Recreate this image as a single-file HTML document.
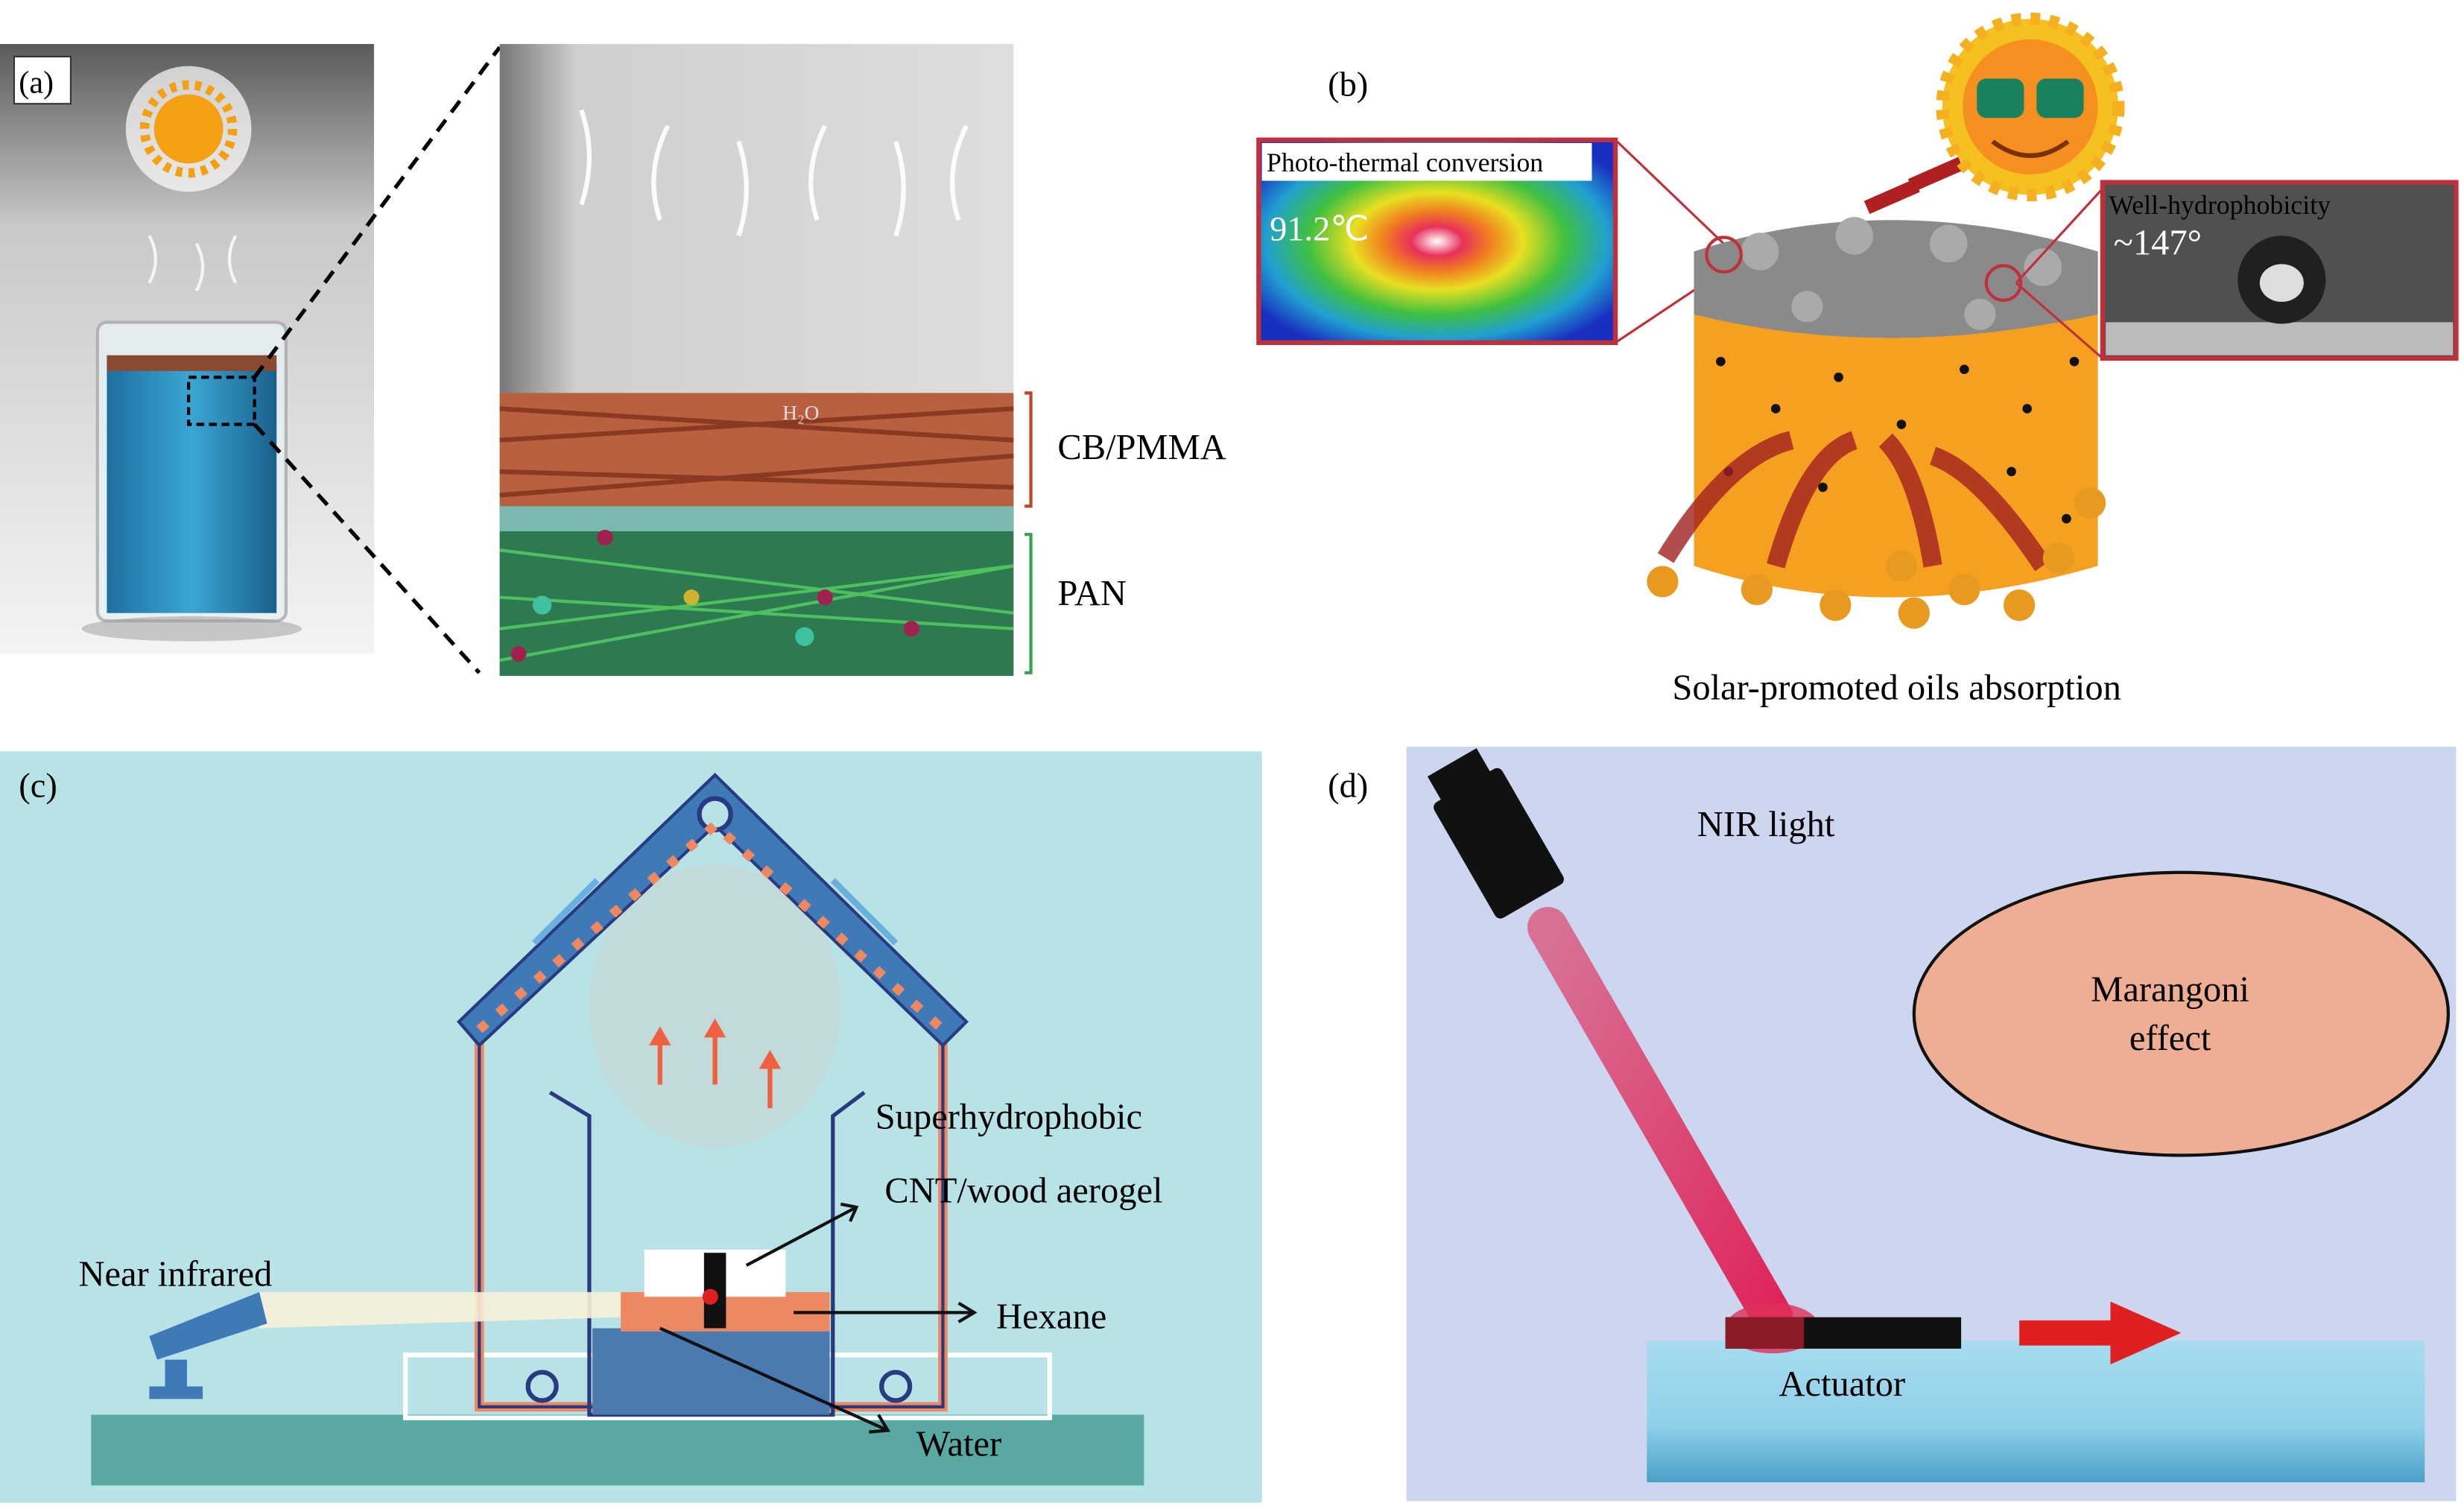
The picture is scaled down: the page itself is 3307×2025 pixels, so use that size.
<!DOCTYPE html>
<html><head><meta charset="utf-8"><style>
html,body{margin:0;padding:0;background:#fff;width:3307px;height:2025px;overflow:hidden}
svg{display:block}
text{font-family:"Liberation Serif",serif}
</style></head><body>
<svg width="3307" height="2025" viewBox="0 0 1568 960" preserveAspectRatio="none" xmlns="http://www.w3.org/2000/svg">
<defs>
<linearGradient id="ga" x1="0" y1="0" x2="0" y2="1"><stop offset="0" stop-color="#5a5a5a"/><stop offset="0.3" stop-color="#c9c9c9"/><stop offset="1" stop-color="#f4f4f4"/></linearGradient>
<linearGradient id="gr" x1="0" y1="0" x2="1" y2="0"><stop offset="0" stop-color="#777"/><stop offset="0.15" stop-color="#cfcfcf"/><stop offset="1" stop-color="#dedede"/></linearGradient>
<linearGradient id="gw" x1="0" y1="0" x2="1" y2="0"><stop offset="0" stop-color="#1e6fa0"/><stop offset="0.5" stop-color="#3aa6d4"/><stop offset="1" stop-color="#1a5f8c"/></linearGradient>
<radialGradient id="gt" cx="0.5" cy="0.5" r="0.6"><stop offset="0" stop-color="#fff"/><stop offset="0.12" stop-color="#e8305a"/><stop offset="0.25" stop-color="#f08020"/><stop offset="0.4" stop-color="#e8e020"/><stop offset="0.6" stop-color="#40c040"/><stop offset="0.8" stop-color="#20a0d0"/><stop offset="1" stop-color="#1830c0"/></radialGradient>
<linearGradient id="gwat" x1="0" y1="0" x2="0" y2="1"><stop offset="0" stop-color="#a8dcef"/><stop offset="0.6" stop-color="#8fd0ea"/><stop offset="1" stop-color="#4aa0c8"/></linearGradient>
<linearGradient id="gbeam" x1="0" y1="0" x2="1" y2="1"><stop offset="0" stop-color="#e0305a" stop-opacity=".6"/><stop offset="1" stop-color="#e0104a" stop-opacity=".9"/></linearGradient>
</defs>

<rect x="0" y="28" width="238" height="388" fill="url(#ga)"/>
<circle cx="120" cy="82" r="40" fill="#fff" opacity=".7"/>
<circle cx="120" cy="82" r="22" fill="#f5a012"/>
<circle cx="120" cy="82" r="28" fill="none" stroke="#f5a012" stroke-width="6" stroke-dasharray="4 4"/>
<path d="M95 180 q8 -15 0 -30 M125 185 q8 -15 0 -30 M150 180 q-8 -15 0 -30" stroke="#fff" stroke-width="2" fill="none" opacity=".8"/>
<rect x="62" y="205" width="120" height="190" rx="6" fill="#e8f1f4" stroke="#aaa" stroke-width="2" opacity=".8"/>
<rect x="68" y="232" width="108" height="158" fill="url(#gw)"/>
<rect x="68" y="226" width="108" height="10" fill="#8a4a30"/>
<rect x="120" y="240" width="42" height="30" fill="none" stroke="#000" stroke-width="2" stroke-dasharray="5 3"/>
<ellipse cx="122" cy="400" rx="70" ry="8" fill="#999" opacity=".5"/>
<rect x="9" y="36" width="36" height="30" fill="#fff" stroke="#333"/>
<text x="12" y="59" font-size="20">(a)</text>
<line x1="162" y1="240" x2="318" y2="30" stroke="#000" stroke-width="2.5" stroke-dasharray="9 6"/>
<line x1="162" y1="270" x2="305" y2="428" stroke="#000" stroke-width="2.5" stroke-dasharray="9 6"/>

<rect x="318" y="28" width="327" height="402" fill="url(#gr)"/>
<path d="M370 130 q10 -30 0 -60 M420 140 q-10 -30 5 -60 M470 150 q10 -30 0 -60 M520 140 q-10 -30 5 -60 M570 150 q10 -30 0 -60 M610 140 q-10 -30 5 -60" stroke="#fff" stroke-width="3" fill="none" opacity=".9"/>
<rect x="318" y="250" width="327" height="75" fill="#b8603f"/>
<path d="M318 260 l327 20 M318 280 l327 -20 M318 300 l327 10 M318 315 l327 -25" stroke="#8a3a20" stroke-width="3"/>
<rect x="318" y="322" width="327" height="108" fill="#2e7a50"/>
<rect x="318" y="322" width="327" height="16" fill="#7ab8b0"/>
<path d="M318 350 l327 40 M318 400 l327 -40 M318 380 l327 20 M318 420 l327 -60" stroke="#4fc060" stroke-width="2"/>
<circle cx="385" cy="342" r="5" fill="#a02050"/><circle cx="440" cy="380" r="5" fill="#d0b030"/><circle cx="525" cy="380" r="5" fill="#a02050"/><circle cx="512" cy="405" r="6" fill="#40c0a0"/><circle cx="580" cy="400" r="5" fill="#a02050"/><circle cx="330" cy="416" r="5" fill="#a02050"/><circle cx="345" cy="385" r="6" fill="#40c0a0"/>
<text x="498" y="267" font-size="13" fill="#ddd">H₂O</text>
<path d="M652 250 h4 v72 h-4" stroke="#c0462a" stroke-width="2" fill="none"/>
<path d="M652 340 h4 v88 h-4" stroke="#3aa050" stroke-width="2" fill="none"/>
<text x="673" y="292" font-size="23">CB/PMMA</text>
<text x="673" y="385" font-size="23">PAN</text>

<text x="845" y="61" font-size="22">(b)</text>
<rect x="801" y="89" width="227" height="129" fill="url(#gt)" stroke="#c0303a" stroke-width="3"/>
<rect x="803" y="91" width="210" height="24" fill="#fff"/>
<text x="806" y="109" font-size="17">Photo-thermal conversion</text>
<text x="808" y="153" font-size="22" fill="#fff">91.2℃</text>
<line x1="1028" y1="89" x2="1100" y2="158" stroke="#c0303a" stroke-width="1.5"/>
<line x1="1028" y1="218" x2="1100" y2="170" stroke="#c0303a" stroke-width="1.5"/>
<path d="M1078 160 Q1200 120 1335 160 L1335 360 Q1200 400 1078 360 Z" fill="#f5a020"/>
<path d="M1078 160 Q1200 120 1335 160 L1335 200 Q1200 230 1078 200 Z" fill="#8a8a8a"/>
<g fill="#aaa"><circle cx="1120" cy="160" r="12"/><circle cx="1180" cy="150" r="12"/><circle cx="1240" cy="155" r="12"/><circle cx="1300" cy="170" r="12"/><circle cx="1150" cy="195" r="10"/><circle cx="1260" cy="200" r="10"/></g>
<g fill="#111"><circle cx="1095" cy="230" r="3"/><circle cx="1130" cy="260" r="3"/><circle cx="1170" cy="240" r="3"/><circle cx="1210" cy="270" r="3"/><circle cx="1250" cy="235" r="3"/><circle cx="1290" cy="260" r="3"/><circle cx="1320" cy="230" r="3"/><circle cx="1100" cy="300" r="3"/><circle cx="1160" cy="310" r="3"/><circle cx="1280" cy="300" r="3"/><circle cx="1315" cy="330" r="3"/></g>
<path d="M1060 355 Q1100 290 1140 280 M1130 360 Q1150 290 1180 280 M1230 360 Q1220 300 1200 280 M1300 360 Q1260 300 1230 290" stroke="#a02020" stroke-width="12" fill="none" opacity=".8"/>
<g fill="#e89a20"><circle cx="1058" cy="370" r="10"/><circle cx="1118" cy="375" r="10"/><circle cx="1168" cy="385" r="10"/><circle cx="1218" cy="390" r="10"/><circle cx="1250" cy="375" r="10"/><circle cx="1285" cy="385" r="10"/><circle cx="1310" cy="355" r="10"/><circle cx="1330" cy="320" r="10"/><circle cx="1210" cy="360" r="10"/></g>
<circle cx="1097" cy="162" r="11" fill="none" stroke="#c0303a" stroke-width="2"/>
<circle cx="1275" cy="180" r="11" fill="none" stroke="#c0303a" stroke-width="2"/>
<path d="M1220 118 l-32 14 M1248 104 l-32 14" stroke="#b02020" stroke-width="9"/>
<circle cx="1292" cy="68" r="56" fill="#f5c020" stroke="#f5b020" stroke-width="8" stroke-dasharray="6 6"/>
<circle cx="1292" cy="68" r="43" fill="#f59020"/>
<rect x="1258" y="50" width="30" height="25" rx="6" fill="#1a8060"/><rect x="1296" y="50" width="30" height="25" rx="6" fill="#1a8060"/>
<path d="M1268 90 q24 18 48 0" stroke="#7a3000" stroke-width="3" fill="none"/>
<line x1="1283" y1="180" x2="1338" y2="120" stroke="#c0303a" stroke-width="1.5"/>
<line x1="1283" y1="180" x2="1338" y2="228" stroke="#c0303a" stroke-width="1.5"/>
<rect x="1338" y="116" width="225" height="112" fill="#505050" stroke="#c0303a" stroke-width="3"/>
<rect x="1340" y="205" width="221" height="21" fill="#bbb"/>
<circle cx="1452" cy="178" r="28" fill="#202020"/><ellipse cx="1452" cy="180" rx="14" ry="12" fill="#ddd"/>
<text x="1342" y="136" font-size="17">Well-hydrophobicity</text>
<text x="1345" y="162" font-size="23" fill="#fff">~147°</text>
<text x="1207" y="445" font-size="23" text-anchor="middle">Solar-promoted oils absorption</text>

<rect x="0" y="478" width="803" height="478" fill="#b8e3e6"/>
<text x="12" y="507" font-size="22">(c)</text>
<rect x="58" y="900" width="670" height="45" fill="#5aa8a2"/>
<rect x="258" y="862" width="410" height="40" fill="none" stroke="#fff" stroke-width="3"/>
<path d="M305 640 V895 H388 V860" stroke="#ee8860" stroke-width="6" fill="none"/>
<path d="M600 640 V895 H517 V860" stroke="#ee8860" stroke-width="6" fill="none"/>
<path d="M305 640 V895 H388 V860 M600 640 V895 H517 V860" stroke="#2a3a80" stroke-width="2" fill="none"/>
<circle cx="345" cy="882" r="9" fill="none" stroke="#2a3a80" stroke-width="3"/>
<circle cx="570" cy="882" r="9" fill="none" stroke="#2a3a80" stroke-width="3"/>
<ellipse cx="455" cy="640" rx="80" ry="90" fill="#f4b0a0" opacity=".18"/>
<path d="M292 650 L455 493 L615 650 L600 665 L455 525 L305 665 Z" fill="#3f7ab8" stroke="#2a3a80" stroke-width="2"/>
<circle cx="455" cy="518" r="10" fill="#b8e3e6" stroke="#2a3a80" stroke-width="3"/>
<path d="M305 655 L455 525 L600 655" stroke="#ee8860" stroke-width="6" fill="none" stroke-dasharray="6 10"/>
<path d="M340 600 l40 -40 M530 560 l40 40" stroke="#6ab0e0" stroke-width="4"/>
<path d="M350 695 L375 710 V900 H530 V710 L550 695" stroke="#2a3a80" stroke-width="2.5" fill="none"/>
<rect x="377" y="845" width="151" height="55" fill="#4a7ab0"/>
<rect x="395" y="822" width="133" height="25" fill="#ee8860"/>
<rect x="410" y="795" width="90" height="30" fill="#fff"/>
<rect x="448" y="797" width="14" height="48" fill="#111"/>
<circle cx="452" cy="825" r="5" fill="#e02020"/>
<path d="M420 690 v-30 M455 690 v-35 M490 705 v-30" stroke="#ee6040" stroke-width="3"/>
<path d="M413 665 l7 -12 l7 12 Z M448 660 l7 -12 l7 12 Z M483 680 l7 -12 l7 12 Z" fill="#ee6040"/>
<path d="M165 822 L395 822 L395 838 L165 845 Z" fill="#f8f0d8" opacity=".9"/>
<path d="M95 850 L165 822 L170 842 L100 865 Z" fill="#3f7ab8"/>
<rect x="105" y="865" width="14" height="20" fill="#3f7ab8"/><rect x="95" y="882" width="34" height="8" fill="#3f7ab8"/>
<g stroke="#111" stroke-width="2" fill="none">
<line x1="475" y1="805" x2="545" y2="768"/><path d="M535 766 l10 2 l-4 9"/>
<line x1="505" y1="835" x2="620" y2="835"/><path d="M610 829 l10 6 l-10 6"/>
<line x1="420" y1="845" x2="565" y2="910"/><path d="M553 911 l12 -1 l-6 -10"/>
</g>
<text x="557" y="718" font-size="23">Superhydrophobic</text>
<text x="563" y="765" font-size="23">CNT/wood aerogel</text>
<text x="634" y="845" font-size="23">Hexane</text>
<text x="583" y="926" font-size="23">Water</text>
<text x="50" y="818" font-size="23">Near infrared</text>

<rect x="895" y="475" width="668" height="480" fill="#ccd6ee"/>
<text x="845" y="507" font-size="22">(d)</text>
<rect x="1048" y="853" width="495" height="90" fill="url(#gwat)"/>
<line x1="985" y1="590" x2="1128" y2="838" stroke="url(#gbeam)" stroke-width="26" stroke-linecap="round"/>
<g transform="rotate(-30 950 530)"><rect x="925" y="495" width="50" height="85" rx="4" fill="#111"/><rect x="932" y="478" width="36" height="22" fill="#111"/></g>
<ellipse cx="1128" cy="845" rx="30" ry="16" fill="#e0305a" opacity=".8"/>
<rect x="1098" y="838" width="150" height="20" fill="#111"/>
<rect x="1098" y="838" width="50" height="20" fill="#c02030" opacity=".7"/>
<path d="M1285 840 h58 v-12 l45 20 l-45 20 v-12 h-58 Z" fill="#e02020"/>
<ellipse cx="1388" cy="645" rx="170" ry="90" fill="#eeae93" stroke="#111" stroke-width="2"/>
<text x="1381" y="637" font-size="23" text-anchor="middle">Marangoni</text>
<text x="1381" y="668" font-size="23" text-anchor="middle">effect</text>
<text x="1080" y="532" font-size="23">NIR light</text>
<text x="1132" y="888" font-size="23">Actuator</text>
</svg>
</body></html>
